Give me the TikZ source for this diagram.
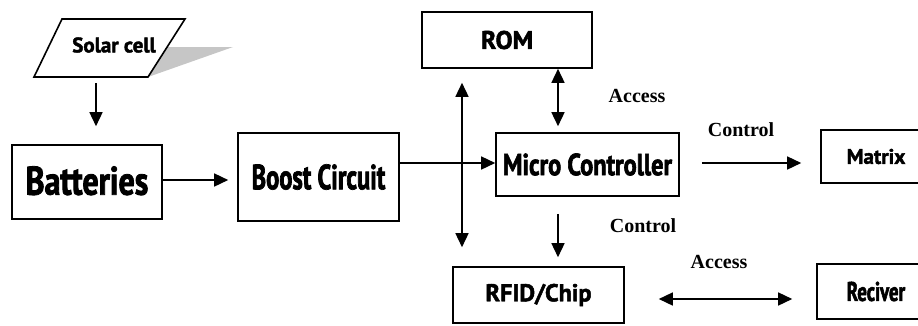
\documentclass[tikz,border=0pt]{standalone}
\usepackage{fontspec}
\setmainfont{Liberation Serif}
\newfontfamily\blockfont[FakeBold=2]{PT Sans}
\newfontfamily\narrowfont[FakeStretch=0.8,FakeBold=2]{PT Sans}
\newfontfamily\tightfont[FakeStretch=0.7,FakeBold=2]{PT Sans}
\usetikzlibrary{arrows.meta}
\tikzstyle{block}=[draw,line width=1.6pt,inner sep=0pt]
\tikzstyle{arr}=[line width=1.5pt,-{Triangle[length=14pt,width=13pt]}]
\tikzstyle{darr}=[line width=1.5pt,{Triangle[length=14pt,width=13pt]}-{Triangle[length=14pt,width=13pt]}]
\tikzstyle{tag}=[inner sep=0pt,font=\fontsize{20}{20}\selectfont\bfseries]

\begin{document}
\begin{tikzpicture}[x=1pt,y=-1pt]
    \useasboundingbox (0,0) rectangle (918,325);
    % Solar cell with its shadow
    \fill[gray!45] (167,47) -- (233,47) -- (148,77) -- cycle;
    \draw[line width=1.6pt] (34,77) -- (148,77) -- (185,19) -- (62,19) -- cycle;
    \node[inner sep=0pt,font=\blockfont\bfseries\fontsize{21}{21}\selectfont] (solar) at (114,45) {Solar cell};
    \coordinate (solarfoot) at (96,77);

    % Then the blocks
    \node[block,minimum width=150pt,minimum height=74pt,font=\narrowfont\bfseries\fontsize{40}{40}\selectfont] (batteries) at (87,182) {\raisebox{3pt}{Batteries}};
    \node[block,minimum width=161pt,minimum height=88pt,font=\tightfont\bfseries\fontsize{35}{35}\selectfont] (boost) at (318.5,177) {Boost Circuit};
    \node[block,minimum width=170pt,minimum height=56pt,font=\blockfont\bfseries\fontsize{25.5}{25.5}\selectfont] (rom) at (507,40) {ROM};
    \node[block,minimum width=183pt,minimum height=63pt,font=\narrowfont\bfseries\fontsize{30.5}{30.5}\selectfont] (micro) at (587.5,164.5) {Micro Controller};
    \node[block,minimum width=110pt,minimum height=53pt,font=\blockfont\bfseries\fontsize{21}{21}\selectfont] (matrix) at (876,156.5) {Matrix};
    \node[block,minimum width=171pt,minimum height=56pt,font=\blockfont\bfseries\fontsize{24.3}{24.3}\selectfont] (rfid) at (538.5,295) {RFID/Chip};
    \node[block,minimum width=118pt,minimum height=55pt,font=\tightfont\bfseries\fontsize{27}{27}\selectfont] (reciver) at (876,291.5) {\raisebox{-4pt}{Reciver}};
    \coordinate (bus) at (462,160);
    \coordinate (memline) at (558,160);

    % Connect blocks with arrows
    \draw[arr,shorten <=6pt,shorten >=18pt] (solarfoot) -- (solarfoot |- batteries.north);
    \draw[arr,shorten >=9pt] ([yshift=2pt]batteries.east) -- ([yshift=2pt]batteries.east -| boost.west);
    \draw[arr] ([yshift=1.5pt]micro.west -| boost.east) -- ([yshift=1.5pt]micro.west);
    \draw[darr,shorten <=14pt,shorten >=19pt] (bus |- rom.south) -- (bus |- rfid.north);
    \draw[darr,shorten >=6pt] (memline |- rom.south) -- (memline |- micro.north);
    \draw[arr,shorten <=22pt,shorten >=19pt] ([yshift=1.5pt]micro.east) -- ([yshift=1.5pt]micro.east -| matrix.west);
    \draw[arr,shorten <=17pt,shorten >=9pt] (memline |- micro.south) -- (memline |- rfid.north);
    \draw[darr,shorten <=34pt,shorten >=24pt] ([yshift=-4pt]rfid.east) -- ([yshift=-4pt]rfid.east -| reciver.west);

    % Labels on the links
    \foreach \pos/\name/\txt in {{(637,96)/acc1/Access}, {(741,130)/ctl1/Control}, {(643,226)/ctl2/Control}, {(719,262)/acc2/Access}}
        \node[tag] (\name) at \pos {\txt};
\end{tikzpicture}
\end{document}
